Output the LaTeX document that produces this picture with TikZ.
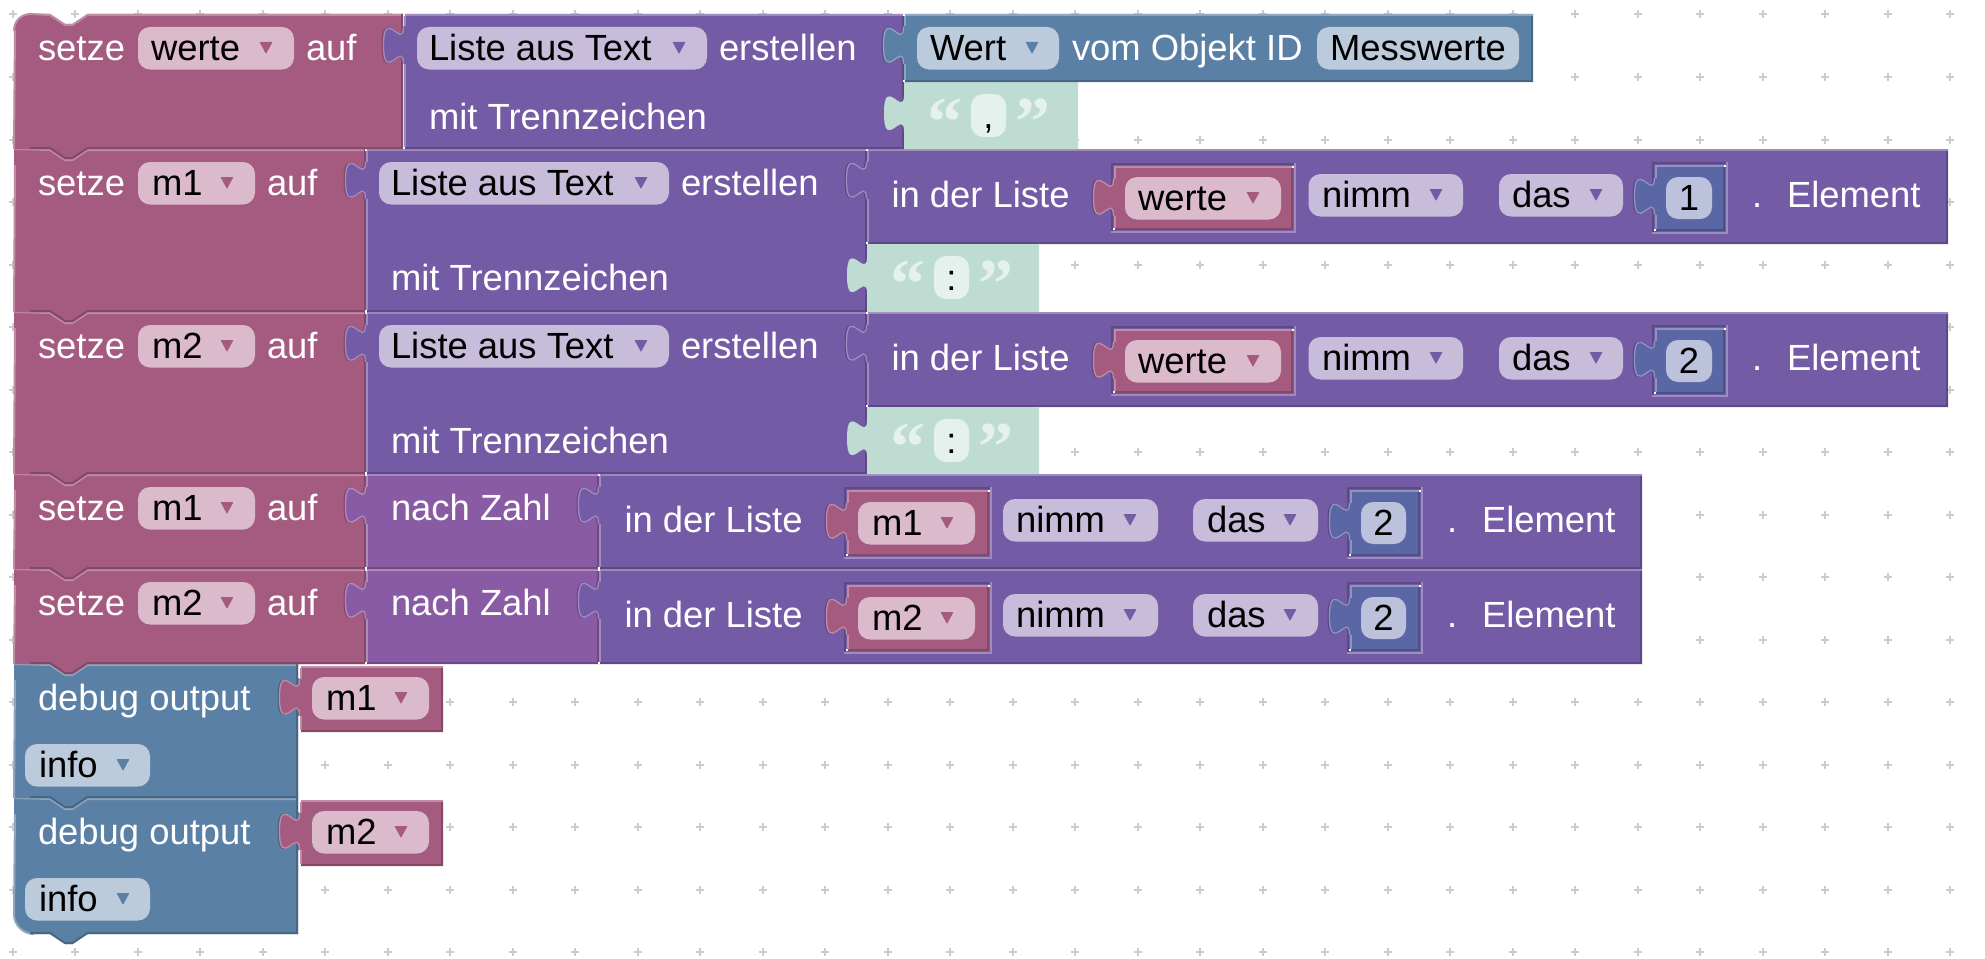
\documentclass[tikz,border=0pt]{standalone}
\usepackage{fontspec}
\setmainfont{Liberation Sans}
\newfontfamily\quotefont{Liberation Serif}
\definecolor{pinkF}{HTML}{A55B80}\definecolor{pinkL}{HTML}{C08BA6}\definecolor{pinkD}{HTML}{844966}\definecolor{pinkV}{HTML}{DBBBCB}
\definecolor{purpF}{HTML}{745BA5}\definecolor{purpL}{HTML}{9E8CC0}\definecolor{purpD}{HTML}{5D4984}\definecolor{purpV}{HTML}{C7BDDB}
\definecolor{blueF}{HTML}{5B80A5}\definecolor{blueL}{HTML}{8CA6C0}\definecolor{blueD}{HTML}{496684}\definecolor{blueV}{HTML}{BCCBDB}
\definecolor{numbF}{HTML}{5B67A5}\definecolor{numbL}{HTML}{8C94C0}\definecolor{numbD}{HTML}{495284}\definecolor{numbV}{HTML}{BCC2DB}
\definecolor{zahlF}{HTML}{8A5BA5}\definecolor{zahlL}{HTML}{AE8CC0}\definecolor{zahlD}{HTML}{6E4984}
\definecolor{greeF}{HTML}{BFDCD2}\definecolor{greeL}{HTML}{BFDCD2}\definecolor{greeD}{HTML}{BFDCD2}\definecolor{greeV}{HTML}{E5F1ED}
\tikzset{
  lbl/.style={anchor=base west,inner sep=0pt,outer sep=0pt,yshift=-1pt,text=white,font=\fontsize{36.4}{40}\selectfont},
  val/.style={lbl,text=black},
  valc/.style={lbl,text=black,anchor=base},
  quot/.style={anchor=base,inner sep=0pt,outer sep=0pt,text=greeV,font=\quotefont\bfseries\fontsize{70}{76}\selectfont},
  edge/.style={line width=2pt},
  glint/.style={fill=white},
  gridmark/.style={draw=black!20,line width=2pt}
}
% tab going down the left edge x=#1 of a block whose top is #2
\newcommand\tabpts[2]{-- (#1,#2+12.5) \tabcurve{#1}{#2}}
\newcommand\tabcurve[2]{.. controls (#1,#2+37.5) and (#1-20,#2-8.75) .. (#1-20,#2+31.25) .. controls (#1-20,#2+71.25) and (#1,#2+25) .. (#1,#2+50)}
% output block: x1,x2,t,b,colour,parent colour
\newcommand\outblock[6]{%
  \draw[#6D,line width=2pt,shift={(-1.5,0)}] (#1,#3+12.5) \tabcurve{#1}{#3};
  \fill[#5F] (#1,#3) \tabpts{#1}{#3} -- (#1,#4) -- (#2,#4) -- (#2,#3) -- cycle;
  \draw[#5L,line width=1.3pt] (#1-0.5,#3+12.5) \tabcurve{#1-0.5}{#3};
  \draw[#5L,edge] (#1,#3+1) -- (#2,#3+1);
  \draw[#5L,edge] (#1+1,#3) -- (#1+1,#3+12.5) (#1+1,#3+50) -- (#1+1,#4);
  \draw[#5D,edge] (#2-1,#3+2) -- (#2-1,#4-1) -- (#1,#4-1);
}
\newcommand\joints[3]{% x, t, b
  \fill[glint] (#1-1,#2) rectangle (#1+1,#2+2);
  \fill[glint] (#1-1,#3-2) rectangle (#1+1,#3);
}
% inner value block in an inset frame: x1,x2,t,b,colour,parent colour
\newcommand\inner[6]{%
  \draw[#6D,edge] (#1+1,#4) -- (#1+1,#3+1) -- (#2,#3+1);
  \draw[#6L,edge] (#2-1,#3) -- (#2-1,#4-1) -- (#1,#4-1);
  \outblock{#1+3}{#2-3}{#3+3}{#4-3}{#5}{#6}
  \fill[glint] (#2-4,#3+3) rectangle (#2-2,#3+5);
  \fill[glint] (#1+2,#4-5) rectangle (#1+4,#4-3);
}
% statement block: x2,t,b,colour,top-left path,bottom-left path
\newcommand\stmt[6]{%
  \fill[#4F] #5 -- (50,#2) -- (65,#2+10) -- (72.5,#2+10) -- (87.5,#2) -- (#1,#2) -- (#1,#3)
     -- (87.5,#3) -- (72.5,#3+10) -- (65,#3+10) -- (50,#3) -- #6 -- cycle;
  \draw[#4L,edge] #5 -- (50,#2+1) -- (65,#2+11) -- (72.5,#2+11) -- (87.5,#2+1) -- (#1,#2+1);
  \draw[#4L,edge] #6 -- (15,#2+16);
  \draw[#4D,edge] (#1-1,#2) -- (#1-1,#3-1) -- (87.5,#3-1) -- (72.5,#3+9) -- (65,#3+9) -- (50,#3-1) -- (30,#3-1);
}
% field: name,x1,x2,top,text x,text,triangle x,colour
\newcommand\fieldbox[8]{%
  \fill[#8V,rounded corners=12pt] (#2,#4) rectangle (#3,#4+42.5);
  \node[val] (#1) at (#5,#4+32) {#6};
  \fill[#8F,rounded corners=0.7pt] (#7-6.5,#4+15) -- (#7+6.5,#4+15) -- (#7,#4+27) -- cycle;
}
% string block: name,x1,x2,top,bottom,text
\newcommand\strblock[6]{%
  \fill[greeF] (#2,#4) \tabpts{#2}{#4} -- (#2,#5) -- (#3,#5) -- (#3,#4) -- cycle;
  \node[quot] (#1-o) at (#2+41,#4+63) {“};
  \fill[greeV,rounded corners=12pt] (#2+67,#4+12) rectangle (#2+102,#4+55);
  \node[valc] (#1-t) at (#2+84.5,#4+45) {#6};
  \node[quot] (#1-c) at (#2+129,#4+63) {”};
}
% list rows, wide layout: name,top,variable,number
\newcommand\listA[4]{%
  \outblock{867}{1948}{#2}{#2+95}{purp}{purp}
  \joints{867}{#2}{#2+95}
  \node[lbl] (#1-a) at (891.5,#2+57) {in der Liste};
  \inner{1111}{1296}{#2+14}{#2+84}{pink}{purp}
  \fieldbox{#1-v}{1125}{1281}{#2+28}{1138}{#3}{1253}{pink}
  \fieldbox{#1-n}{1308.5}{1463}{#2+25}{1322}{nimm}{1436}{purp}
  \fieldbox{#1-d}{1499}{1623}{#2+25}{1512}{das}{1596}{purp}
  \inner{1652}{1728}{#2+13}{#2+85}{numb}{purp}
  \fill[numbV,rounded corners=12pt] (1666,#2+28) rectangle (1712,#2+70);
  \node[valc] (#1-i) at (1689,#2+60) {#4};
  \node[lbl] (#1-p) at (1752,#2+57) {.};
  \node[lbl] (#1-e) at (1787,#2+57) {Element};
}
% list rows, narrow layout: name,top,variable
\newcommand\listB[3]{%
  \outblock{599}{1642}{#2}{#2+95}{purp}{zahl}
  \joints{599}{#2}{#2+95}
  \node[lbl] (#1-a) at (624.5,#2+57) {in der Liste};
  \inner{844}{992}{#2+13}{#2+85}{pink}{purp}
  \fieldbox{#1-v}{858}{975}{#2+28}{872}{#3}{947}{pink}
  \fieldbox{#1-n}{1003}{1158}{#2+25}{1016}{nimm}{1130}{purp}
  \fieldbox{#1-d}{1193}{1318}{#2+25}{1207}{das}{1290}{purp}
  \inner{1347}{1423}{#2+13}{#2+85}{numb}{purp}
  \fill[numbV,rounded corners=12pt] (1361,#2+28) rectangle (1406,#2+70);
  \node[valc] (#1-i) at (1383.5,#2+60) {2};
  \node[lbl] (#1-p) at (1447,#2+57) {.};
  \node[lbl] (#1-e) at (1482,#2+57) {Element};
}
% setze row head: name,top,var,field end,text x,tri x
\newcommand\setze[6]{%
  \node[lbl] (#1-s) at (38,#2+45) {setze};
  \fieldbox{#1-f}{138}{#4}{#2+13}{#5}{#3}{#6}{pink}
}
% Liste aus Text block: name,x1,x2,top,bottom,offset of second line
\newcommand\splitblock[6]{%
  \outblock{#2}{#3}{#4}{#5}{purp}{pink}
  \joints{#2}{#4}{#5}
  \fieldbox{#1-l}{#2+13}{#2+303}{#4+13}{#2+25}{Liste aus Text}{#2+275}{purp}
  \node[lbl] (#1-e) at (#2+315,#4+45) {erstellen};
  \node[lbl] (#1-m) at (#2+25,#4+#6) {mit Trennzeichen};
}
% debug block: name,top,bottom,var,bottom-left path
\newcommand\debugblk[5]{%
  \stmt{298}{#2}{#3}{blue}{(14,#2)}{#5}
  \node[lbl] (#1-d) at (38,#2+45) {debug output};
  \outblock{300}{443}{#2+2}{#2+68}{pink}{blue}
  \joints{300}{#2+2}{#2+68}
  \fieldbox{#1-v}{312}{429}{#2+13}{326}{#4}{401}{pink}
  \fieldbox{#1-i}{25}{150}{#2+80}{39}{info}{123}{blue}
}
\begin{document}
\begin{tikzpicture}[x=1pt,y=-1pt]
\useasboundingbox (0,0) rectangle (1985,958);
\fill[white] (0,0) rectangle (1985,958);
% background grid
\foreach \i in {0,...,31}{\foreach \j in {0,...,15}{
  \draw[gridmark] (12.5+62.5*\i-4,14.5+62.5*\j) -- (12.5+62.5*\i+4,14.5+62.5*\j)
                  (12.5+62.5*\i,14.5+62.5*\j-4) -- (12.5+62.5*\i,14.5+62.5*\j+4);}}

% debug blocks (bottom of stack first)
\debugblk{dbg2}{798}{934}{m2}{(34,934) .. controls (23,934) and (14,925) .. (14,914)}
\debugblk{dbg1}{664}{798}{m1}{(14,798)}

% row 5
\stmt{366}{569}{664}{pink}{(14,569)}{(14,664)}
\setze{r5}{569}{m2}{255}{152}{227}
\node[lbl] (r5-a) at (267,569+45) {auf};
\outblock{366}{599}{569}{664}{zahl}{pink}
\joints{366}{569}{664}
\node[lbl] (r5-z) at (391,569+45) {nach Zahl};
\listB{r5l}{569}{m2}

% row 4
\stmt{366}{474}{569}{pink}{(14,474)}{(14,569)}
\setze{r4}{474}{m1}{255}{152}{227}
\node[lbl] (r4-a) at (267,474+45) {auf};
\outblock{366}{599}{474}{569}{zahl}{pink}
\joints{366}{474}{569}
\node[lbl] (r4-z) at (391,474+45) {nach Zahl};
\listB{r4l}{474}{m1}

% row 3
\stmt{366}{312}{474}{pink}{(14,312)}{(14,474)}
\setze{r3}{312}{m2}{255}{152}{227}
\node[lbl] (r3-a) at (267,312+45) {auf};
\splitblock{r3b}{366}{867}{312}{474}{140}
\listA{r3l}{312}{werte}{2}
\strblock{r3t}{867}{1039}{407}{474}{:}

% row 2
\stmt{366}{149}{312}{pink}{(14,149)}{(14,312)}
\setze{r2}{149}{m1}{255}{152}{227}
\node[lbl] (r2-a) at (267,149+45) {auf};
\splitblock{r2b}{366}{867}{149}{312}{140}
\listA{r2l}{149}{werte}{1}
\strblock{r2t}{867}{1039}{244}{312}{:}

% row 1
\stmt{403}{14}{149}{pink}{(14,31) .. controls (14,21) and (21,14) .. (31,14)}{(14,149)}
\setze{r1}{14}{werte}{294}{151}{266}
\node[lbl] (r1-a) at (306,14+45) {auf};
\splitblock{r1b}{404}{904}{14}{149}{114}
\strblock{r1t}{904}{1078}{82}{149}{,}
\outblock{904}{1533}{14}{82}{blue}{purp}
\joints{904}{14}{82}
\fieldbox{r1-w}{917}{1059}{27}{930}{Wert}{1032}{blue}
\node[lbl] (r1-o) at (1072,59) {vom Objekt ID};
\fill[blueV,rounded corners=12pt] (1317,27) rectangle (1519,69.5);
\node[val] (r1-m) at (1330,59) {Messwerte};
\end{tikzpicture}
\end{document}
